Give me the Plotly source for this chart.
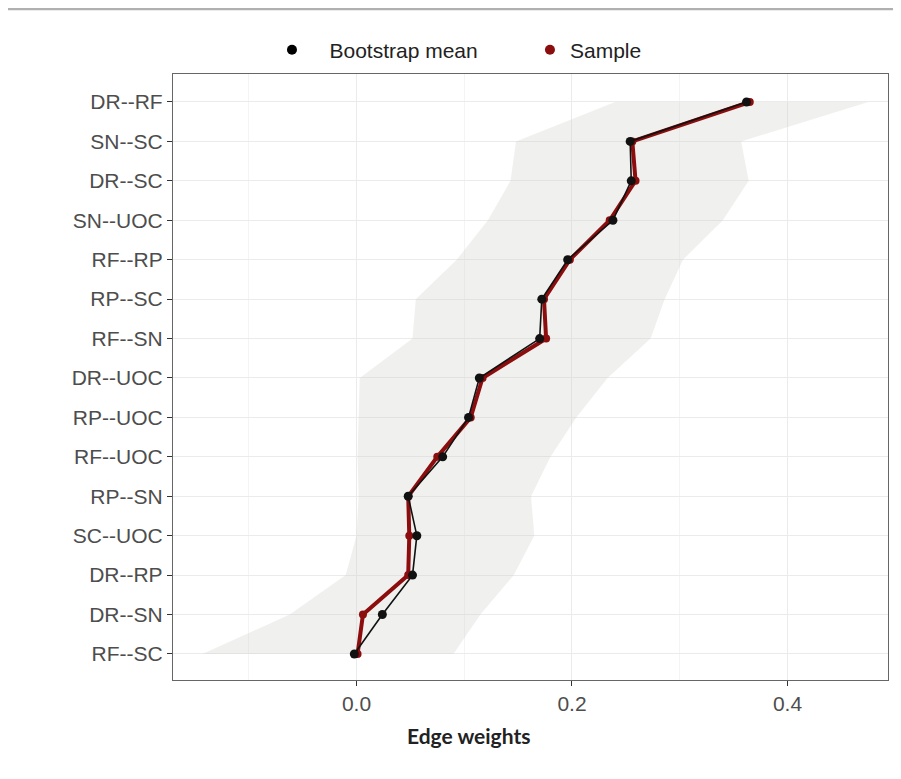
import plotly.graph_objects as go

categories = ["DR--RF", "SN--SC", "DR--SC", "SN--UOC", "RF--RP", "RP--SC", "RF--SN",
              "DR--UOC", "RP--UOC", "RF--UOC", "RP--SN", "SC--UOC", "DR--RP", "DR--SN", "RF--SC"]
boot_mean = [0.362, 0.254, 0.255, 0.238, 0.196, 0.172, 0.170, 0.114, 0.104, 0.080,
             0.048, 0.056, 0.052, 0.024, -0.002]
sample = [0.365, 0.256, 0.259, 0.235, 0.198, 0.174, 0.176, 0.117, 0.106, 0.075,
          0.048, 0.049, 0.048, 0.006, 0.001]
ci_lower = [0.240, 0.148, 0.143, 0.122, 0.093, 0.055, 0.052, 0.003, 0.002, 0.001,
            0.002, 0.000, -0.010, -0.062, -0.143]
ci_upper = [0.475, 0.357, 0.364, 0.340, 0.303, 0.286, 0.273, 0.233, 0.204, 0.180,
            0.162, 0.165, 0.146, 0.115, 0.090]
x_ticks = [0.0, 0.2, 0.4]
x_tick_labels = ["0.0", "0.2", "0.4"]

RED = "#8c0d0d"
BLACK = "#111111"
FONT = "Liberation Sans, Arial, sans-serif"

fig = go.Figure()

# bootstrap CI band
fig.add_trace(go.Scatter(
    x=ci_lower + ci_upper[::-1],
    y=categories + categories[::-1],
    fill="toself", mode="lines", line=dict(width=0),
    fillcolor="rgba(205,205,198,0.30)", hoverinfo="skip", showlegend=False))

# sample (red) line
fig.add_trace(go.Scatter(
    x=sample, y=categories, mode="lines+markers",
    line=dict(color=RED, width=4),
    marker=dict(color=RED, size=8), showlegend=False))

# bootstrap mean (black) line
fig.add_trace(go.Scatter(
    x=boot_mean, y=categories, mode="lines+markers",
    line=dict(color=BLACK, width=1.6),
    marker=dict(color=BLACK, size=9), showlegend=False))

# legend-only entries
fig.add_trace(go.Scatter(x=[None], y=[None], mode="markers", name="   Bootstrap mean",
                         marker=dict(color="#000000", size=10), legend="legend"))
fig.add_trace(go.Scatter(x=[None], y=[None], mode="markers", name="Sample",
                         marker=dict(color=RED, size=10), legend="legend2"))

legend_common = dict(orientation="h", xref="container", yref="container",
                     xanchor="left", yanchor="middle", y=0.9455,
                     font=dict(size=21, color="#222222", family=FONT),
                     bgcolor="rgba(0,0,0,0)", borderwidth=0)

fig.update_layout(
    width=893, height=771,
    margin=dict(l=165, r=13, t=66, b=99, autoexpand=False),
    paper_bgcolor="white", plot_bgcolor="white",
    font=dict(family=FONT, color="#333333"),
    showlegend=True,
    legend=dict(x=0.2956, **legend_common),
    legend2=dict(x=0.5845, **legend_common),
    shapes=[dict(type="line", xref="paper", yref="paper",
                 x0=-0.2308, x1=1.02, y0=1.1073, y1=1.1073,
                 line=dict(color="#b0b0b0", width=2.5))],
    annotations=[dict(text="<b>Edge weights</b>", xref="paper", yref="paper",
                      x=0.4126, y=-0.0908, xanchor="center", yanchor="middle",
                      showarrow=False,
                      font=dict(family="Lato, Open Sans, sans-serif", size=21, color="#222222"))],
)

fig.update_xaxes(
    range=[-0.1703, 0.4933], tickvals=x_ticks, ticktext=x_tick_labels,
    ticks="outside", ticklen=5, tickcolor="#333333",
    tickfont=dict(size=21, color="#4d4d4d", family=FONT),
    showgrid=True, gridcolor="#ebebeb", gridwidth=1.1,
    minor=dict(dtick=0.1, tick0=-0.1, showgrid=True, gridcolor="#f4f4f4", gridwidth=0.6),
    showline=True, linecolor="#666666", linewidth=1.3, mirror=True, zeroline=False)

fig.update_yaxes(
    type="category", categoryorder="array", categoryarray=categories,
    range=[14.66, -0.71],
    ticks="outside", ticklen=5, tickcolor="#333333",
    tickfont=dict(size=21, color="#4d4d4d", family=FONT),
    showgrid=True, gridcolor="#ebebeb", gridwidth=1.1,
    showline=True, linecolor="#666666", linewidth=1.3, mirror=True, zeroline=False)

fig.write_html("out.html")
